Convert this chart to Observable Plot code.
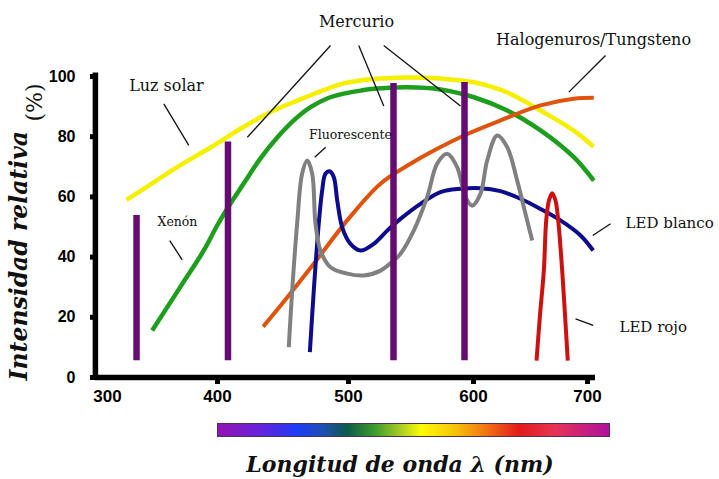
<!DOCTYPE html>
<html>
<head>
<meta charset="utf-8">
<script src="https://cdn.jsdelivr.net/npm/d3@7"></script>
<script src="https://cdn.jsdelivr.net/npm/@observablehq/plot@0.6"></script>
<style>
  html, body { margin: 0; padding: 0; background: #fff; }
  #wrap { position: relative; width: 719px; height: 479px; overflow: hidden; background: #fff; }
  #chart { position: absolute; left: 0; top: 0; }
  #bar {
    position: absolute; left: 217px; top: 423px; width: 393px; height: 14px;
    box-sizing: border-box; border: 1px solid #4a3060;
    background: linear-gradient(to right, #9414b4 0%, #6a22d8 10%, #1e3cf5 20%, #1f4fb0 27%, #0e5a4a 33%, #3c9a2c 40%, #aed022 47%, #fdfb05 52%, #f6c808 60%, #f27a12 68%, #e11a1a 77%, #e63454 86%, #b0119e 100%);
  }
  #xtitle {
    position: absolute; left: 150px; width: 500px; top: 450px; text-align: center;
    font-family: "DejaVu Serif", serif; font-style: italic; font-weight: bold;
    font-size: 22px; line-height: 28px; color: #111;
  }
</style>
</head>
<body>
<div id="wrap">
  <div id="chart"></div>
  <div id="bar"></div>
  <div id="xtitle">Longitud de onda λ (nm)</div>
</div>
<script>
// ---- tick labels ----
const xTicks = [300, 400, 500, 600, 700];
const yTicks = [0, 20, 40, 60, 80, 100];
const xAxisStart = 289;   // left end of the x axis (nm)
const yAxisTop = 101.2;   // top end of the y axis (%)

// ---- series (wavelength nm, relative intensity %) ----
const solarNm  = [317.3, 333.0, 363.4, 393.6, 420.1, 440.5, 460.9, 483.7, 496.2, 509.6, 525.6, 547.2, 573.6, 600.0, 629.8, 658.8, 687.7, 705.3];
const solarPct = [59.0, 62.7, 69.9, 76.4, 83.3, 88.2, 92.0, 95.9, 97.7, 98.7, 99.3, 99.7, 99.3, 98.1, 94.7, 88.7, 82.1, 76.7];

const greenNm  = [340.6, 366.4, 387.5, 399.7, 409.9, 420.1, 432.8, 445.6, 458.2, 471.0, 483.7, 496.4, 509.6, 520.2, 547.0, 573.6, 600.3, 629.6, 658.8, 688.0, 705.5];
const greenPct = [15.6, 30.2, 42.2, 50.5, 57.8, 64.5, 72.8, 79.7, 85.4, 89.8, 92.7, 94.3, 95.3, 95.9, 96.4, 95.7, 93.1, 88.7, 82.1, 73.2, 65.4];

const halogenNm  = [434.9, 448.2, 473.5, 499.0, 525.6, 549.6, 568.3, 595.1, 623.7, 658.8, 688.0, 705.5];
const halogenPct = [16.9, 23.9, 37.8, 52.2, 64.4, 71.0, 75.4, 80.9, 85.4, 90.4, 92.6, 92.9];

const fluorNm  = [454.4, 457.0, 460.8, 464.6, 468.5, 472.3, 474.8, 478.6, 486.3, 499.0, 512.2, 525.6, 536.2, 541.6, 552.2, 562.9, 570.9, 578.9, 586.9, 593.6, 598.9, 606.1, 612.0, 620.8, 629.6, 638.3, 645.6, 651.5];
const fluorPct = [10.1, 28.9, 51.1, 67.7, 72.1, 67.7, 51.1, 42.2, 36.6, 34.5, 33.9, 35.5, 38.9, 41.1, 48.8, 59.9, 71.0, 74.3, 69.9, 59.9, 57.1, 61.0, 72.1, 80.4, 76.5, 65.4, 54.4, 45.5];

const ledWhiteNm  = [470.5, 473.5, 477.3, 479.9, 482.4, 485.7, 488.8, 491.4, 495.2, 501.6, 509.6, 520.2, 531.0, 541.6, 557.6, 573.6, 589.6, 606.1, 623.6, 641.2, 658.8, 676.3, 693.9, 705.0];
const ledWhitePct = [8.4, 28.9, 51.1, 62.1, 67.7, 68.5, 66.5, 58.8, 49.9, 44.4, 42.2, 44.4, 48.8, 52.7, 57.7, 61.6, 62.7, 62.9, 61.9, 59.4, 56.0, 52.2, 47.2, 42.2];

const ledRedNm  = [655.3, 658.3, 661.7, 663.8, 666.2, 669.0, 671.9, 674.3, 677.8, 680.3, 682.7];
const ledRedPct = [5.6, 20.6, 35.5, 52.2, 58.8, 61.2, 58.8, 52.2, 35.5, 20.6, 5.6];

// emission lines (mercury / xenon)
const spikeNm   = [326.4, 408.0, 536.0, 592.8];
const spikePeak = [53.8, 78.2, 97.7, 98.0];
const spikeBase = [5.6, 5.6, 5.6, 5.6];

// ---- annotations ----
const bigLabelText = ["Mercurio", "Halogenuros/Tungsteno", "Luz solar"];
const bigLabelNm   = [506.4, 705.3, 353.6];
const bigLabelPct  = [118.3, 112.3, 97.0];

const smallLabelText = ["Fluorescente", "Xenón"];
const smallLabelNm   = [501.6, 363.6];
const smallLabelPct  = [80.4, 51.5];

const sideLabelText = ["LED blanco", "LED rojo"];
const sideLabelNm   = [733.4, 728.0];
const sideLabelPct  = [51.2, 16.6];

const leaderNm1  = [486.3, 508.2, 528.2, 715.8, 351.2, 482.6, 356.6, 720.2, 689.5];
const leaderPct1 = [110.3, 110.3, 110.3, 107.0, 90.9, 76.5, 45.5, 51.1, 19.5];
const leaderNm2  = [422.8, 528.2, 589.6, 683.6, 373.9, 474.2, 367.9, 704.6, 705.0];
const leaderPct2 = [79.8, 90.2, 90.2, 94.8, 77.1, 73.2, 39.1, 47.2, 17.3];

// ---- build tables ----
const toRows = (nm, pct) => nm.map((v, i) => ({nm: v, pct: pct[i]}));
const solar = toRows(solarNm, solarPct);
const green = toRows(greenNm, greenPct);
const halogen = toRows(halogenNm, halogenPct);
const fluor = toRows(fluorNm, fluorPct);
const ledWhite = toRows(ledWhiteNm, ledWhitePct);
const ledRed = toRows(ledRedNm, ledRedPct);
const spikes = spikeNm.map((v, i) => ({nm: v, peak: spikePeak[i], base: spikeBase[i]}));
const mkLabels = (t, x, y) => t.map((s, i) => ({text: s, nm: x[i], pct: y[i]}));
const bigLabels = mkLabels(bigLabelText, bigLabelNm, bigLabelPct);
const smallLabels = mkLabels(smallLabelText, smallLabelNm, smallLabelPct);
const sideLabels = mkLabels(sideLabelText, sideLabelNm, sideLabelPct);
const leaders = leaderNm1.map((v, i) => ({x1: v, y1: leaderPct1[i], x2: leaderNm2[i], y2: leaderPct2[i]}));

const serif = "DejaVu Serif, serif";
const lineOpts = (color, w) => ({x: "nm", y: "pct", stroke: color, strokeWidth: w, curve: "catmull-rom", strokeLinecap: "butt"});

const chart = Plot.plot({
  width: 719,
  height: 410,
  marginLeft: 95,
  marginRight: 124,
  marginTop: 76,
  marginBottom: 33,
  style: {fontFamily: "Liberation Sans, Arial, sans-serif", background: "white", color: "#000", overflow: "visible"},
  x: {type: "linear", domain: xTicks, range: [107, 217, 348, 473, 587], label: null},
  y: {type: "linear", domain: [0, 100], range: [377, 76], label: null},
  marks: [
    Plot.line(solar, lineOpts("#f4f000", 4.5)),
    Plot.line(green, lineOpts("#1d9e1d", 4.5)),
    Plot.line(halogen, lineOpts("#e0530c", 4)),
    Plot.line(ledWhite, lineOpts("#0c0c8c", 4)),
    Plot.line(fluor, lineOpts("#808080", 4)),
    Plot.line(ledRed, lineOpts("#cc1111", 4)),
    Plot.ruleX(spikes, {x: "nm", y1: "base", y2: "peak", stroke: "#650b72", strokeWidth: 6.5}),
    Plot.link(leaders, {x1: "x1", y1: "y1", x2: "x2", y2: "y2", stroke: "#111", strokeWidth: 1.3}),
    Plot.text(bigLabels, {x: "nm", y: "pct", text: "text", fontFamily: serif, fontSize: 16, fill: "#111"}),
    Plot.text(smallLabels, {x: "nm", y: "pct", text: "text", fontFamily: serif, fontSize: 12.5, fill: "#111"}),
    Plot.text(sideLabels, {x: "nm", y: "pct", text: "text", textAnchor: "start", fontFamily: serif, fontSize: 15, fill: "#111"}),
    Plot.ruleY([0], {stroke: "#000", strokeWidth: 5.5}),
    Plot.ruleX([xAxisStart], {y1: 0, y2: yAxisTop, stroke: "#000", strokeWidth: 5.5}),
    Plot.axisY({ticks: yTicks, tickSize: 5, tickPadding: 15, strokeWidth: 5, fontSize: 16, fontWeight: "bold", label: null}),
    Plot.axisX({ticks: xTicks, tickSize: 0, tickPadding: 12, fontSize: 17, fontWeight: "bold", label: null}),
    Plot.axisX({ticks: xTicks.slice(1), tickSize: 7, strokeWidth: 5, tickFormat: () => "", label: null}),
    Plot.text(["Intensidad relativa"], {text: d => d, frameAnchor: "bottom-left", rotate: -90, textAnchor: "start", dx: -69, dy: 3, fontFamily: serif, fontStyle: "italic", fontWeight: "bold", fontSize: 23.5, fill: "#111"}),
    Plot.text(["(%)"], {text: d => d, frameAnchor: "top-left", rotate: -90, textAnchor: "end", dx: -69, dy: 7, fontFamily: serif, fontSize: 22, fill: "#111"})
  ]
});
document.getElementById("chart").appendChild(chart);
</script>
</body>
</html>
